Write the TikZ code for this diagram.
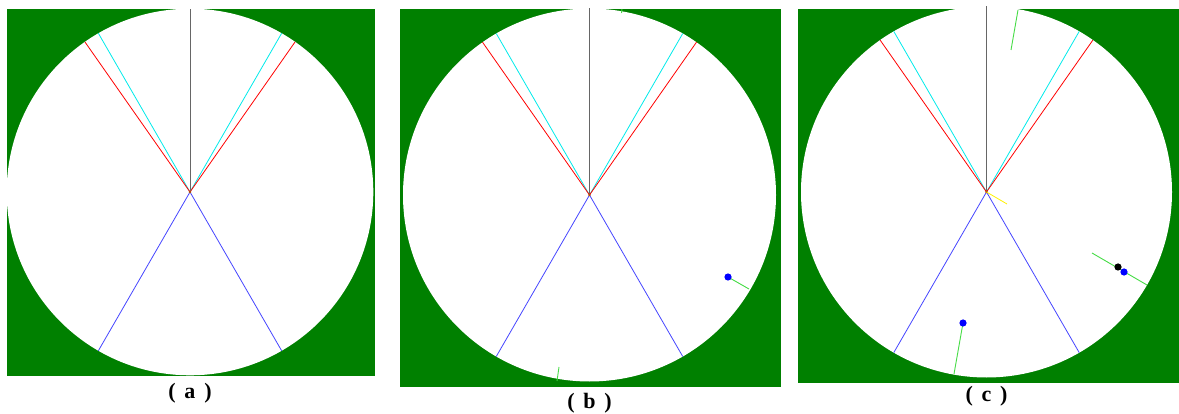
\documentclass[tikz,border=0pt]{standalone}
\usepackage{fontspec}
\setmainfont{Liberation Serif}
\definecolor{field}{RGB}{0,128,0}
\definecolor{trailgreen}{RGB}{70,220,70}
\definecolor{rayblue}{RGB}{70,70,255}
\definecolor{raycyan}{RGB}{0,235,235}

\begin{document}
\begin{tikzpicture}[x=1pt, y=-1pt,
    ray/.style={line width=0.8pt},
    trail/.style={trailgreen, line width=0.9pt},
    robot/.style={fill=blue},
    caption/.style={font=\bfseries\fontsize{22}{26}\selectfont, inner sep=0pt}]
    \useasboundingbox (0,0) rectangle (1179,414);
    \foreach \cx/\cy/\r/\xa/\ya/\xb/\yb/\ly/\lab in {
        190/192/183.3/7/9/375/376/393/a,
        589.5/195/186.5/400/9/781/387/403/b,
        986.5/192/185.5/798/9/1179/383/396/c}{
        \fill[field] (\xa,\ya) rectangle (\xb,\yb);
        \fill[white] (\cx,\cy) circle (\r);
        \coordinate (O-\lab) at (\cx,\cy);
        \draw[ray, black!60] (O-\lab) -- ++(270:\r);
        \draw[ray, raycyan] (O-\lab) -- ++(240:\r);
        \draw[ray, raycyan] (O-\lab) -- ++(300:\r);
        \draw[ray, red] (O-\lab) -- ++(235:\r);
        \draw[ray, red] (O-\lab) -- ++(305:\r);
        \draw[ray, rayblue] (O-\lab) -- ++(60:\r);
        \draw[ray, rayblue] (O-\lab) -- ++(120:\r);
        \fill[red!70!green] (O-\lab) circle (1.3);
        \node[caption] (cap-\lab) at (\cx,\ly) {(\hspace{0.4em}\lab\hspace{0.4em})};
    }

    \coordinate (rb1) at (728,277);
    \coordinate (rb1e) at (749,289);
    \coordinate (tb1) at (559,367);
    \coordinate (tb1e) at (557,381);
    \coordinate (tb2) at (622,9);
    \coordinate (tb2e) at (621.5,13);
    \draw[trail] (rb1) -- (rb1e);
    \draw[trail] (tb1) -- (tb1e);
    \draw[trail] (tb2) -- (tb2e);
    \fill[robot] (rb1) circle (3.6);

    \coordinate (yc) at (1007,204);
    \coordinate (rc1) at (1124,272);
    \coordinate (kc1) at (1118,267);
    \coordinate (tc1) at (1092,253);
    \coordinate (tc1e) at (1147,285);
    \coordinate (rc2) at (963,323);
    \coordinate (rc2e) at (954,374);
    \coordinate (tc3) at (1018,10);
    \coordinate (tc3e) at (1011,50);
    \draw[ray, yellow] (O-c) -- (yc);
    \draw[trail] (tc1) -- (tc1e);
    \draw[trail] (rc2) -- (rc2e);
    \draw[trail] (tc3) -- (tc3e);
    \fill[black] (kc1) circle (3.6);
    \fill[robot] (rc1) circle (3.6);
    \fill[robot] (rc2) circle (3.6);
\end{tikzpicture}
\end{document}
